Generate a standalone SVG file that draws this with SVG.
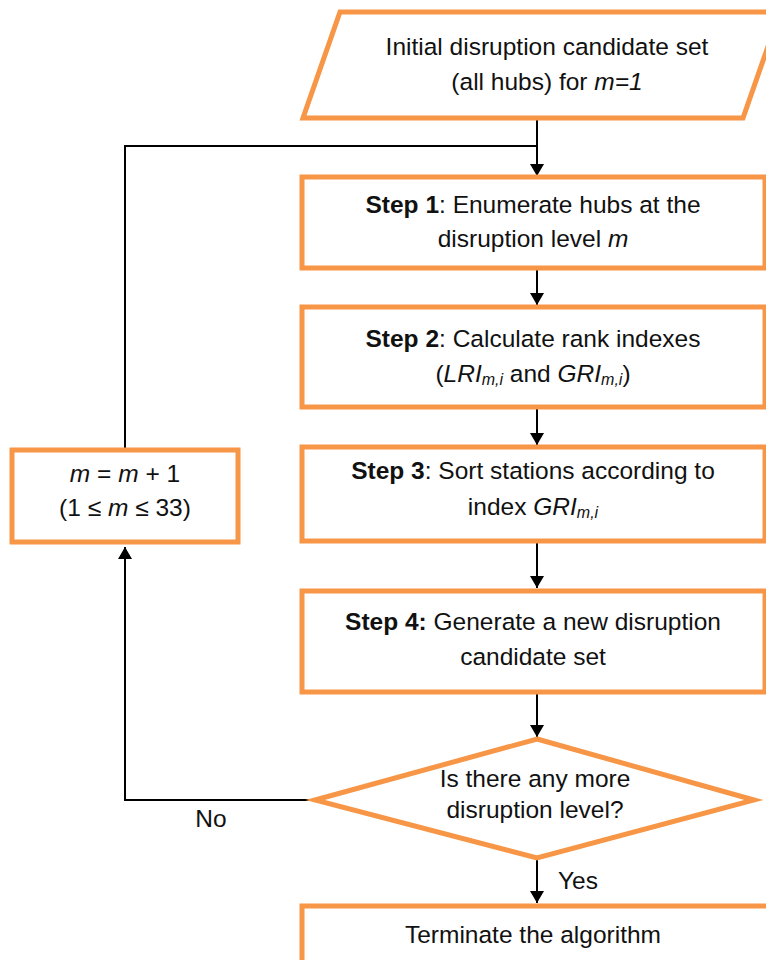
<svg xmlns="http://www.w3.org/2000/svg" width="766" height="960" viewBox="0 0 766 960">
<style>
.n{fill:#fff;stroke:#F79646;stroke-width:5;stroke-linejoin:miter}
.t{font-family:"Liberation Sans Narrow","Arial Narrow","Liberation Sans",Arial,sans-serif;font-size:24.5px;fill:#111;text-anchor:middle}
.b{font-weight:bold}
.i{font-style:italic}
.s{font-size:16px;font-style:italic}
.c{fill:none;stroke:#000;stroke-width:2}
</style>
<defs>
<marker id="ah" markerWidth="12" markerHeight="14" refX="12" refY="7" orient="auto" markerUnits="userSpaceOnUse">
<path d="M0,0 L12,7 L0,14 Z" fill="#000"/>
</marker>
</defs>
<rect width="766" height="960" fill="#fff"/>
<g id="connectors">
<path class="c" d="M537,120 V176" marker-end="url(#ah)"/>
<path class="c" d="M537,270 V305" marker-end="url(#ah)"/>
<path class="c" d="M537,409 V445" marker-end="url(#ah)"/>
<path class="c" d="M537,543 V588" marker-end="url(#ah)"/>
<path class="c" d="M537,694 V737" marker-end="url(#ah)"/>
<path class="c" d="M537,860 V903" marker-end="url(#ah)"/>
<path class="c" d="M315,800 H125 V547" marker-end="url(#ah)"/>
<path class="c" d="M125,448 V146 H537"/>
<text class="t" x="211" y="827">No</text>
<text class="t" x="578" y="889">Yes</text>
</g>
<g id="start">
<polygon class="n" points="340,12 780,12 743,118 303,118"/>
<text class="t" x="547" y="55">Initial disruption candidate set</text>
<text class="t" x="547" y="90">(all hubs) for <tspan class="i">m=1</tspan></text>
</g>
<g id="step1">
<rect class="n" x="302" y="177" width="463" height="91"/>
<text class="t" x="533" y="213"><tspan class="b">Step 1</tspan>: Enumerate hubs at the</text>
<text class="t" x="533" y="247">disruption level <tspan class="i">m</tspan></text>
</g>
<g id="step2">
<rect class="n" x="302" y="307" width="463" height="100"/>
<text class="t" x="533" y="347"><tspan class="b">Step 2</tspan>: Calculate rank indexes</text>
<text class="t" x="533" y="382">(<tspan class="i">LRI</tspan><tspan class="s" dy="3">m,i</tspan><tspan dy="-3"> and </tspan><tspan class="i">GRI</tspan><tspan class="s" dy="3">m,i</tspan><tspan dy="-3">)</tspan></text>
</g>
<g id="step3">
<rect class="n" x="302" y="447" width="463" height="94"/>
<text class="t" x="533" y="479"><tspan class="b">Step 3</tspan>: Sort stations according to</text>
<text class="t" x="533" y="515">index <tspan class="i">GRI</tspan><tspan class="s" dy="3">m,i</tspan></text>
</g>
<g id="step4">
<rect class="n" x="302" y="591" width="463" height="101"/>
<text class="t" x="533" y="630"><tspan class="b">Step 4:</tspan> Generate a new disruption</text>
<text class="t" x="533" y="665">candidate set</text>
</g>
<g id="update">
<rect class="n" x="12" y="450" width="226" height="92"/>
<text class="t" x="125" y="482"><tspan class="i">m</tspan> = <tspan class="i">m</tspan> + 1</text>
<text class="t" x="125" y="516">(1 ≤ <tspan class="i">m</tspan> ≤ 33)</text>
</g>
<g id="decision">
<polygon class="n" points="537,739 754,800 537,858 315,800"/>
<text class="t" x="535" y="787">Is there any more</text>
<text class="t" x="535" y="818">disruption level?</text>
</g>
<g id="terminate">
<rect class="n" x="302" y="906" width="480" height="70"/>
<text class="t" x="533" y="943">Terminate the algorithm</text>
</g>
</svg>
